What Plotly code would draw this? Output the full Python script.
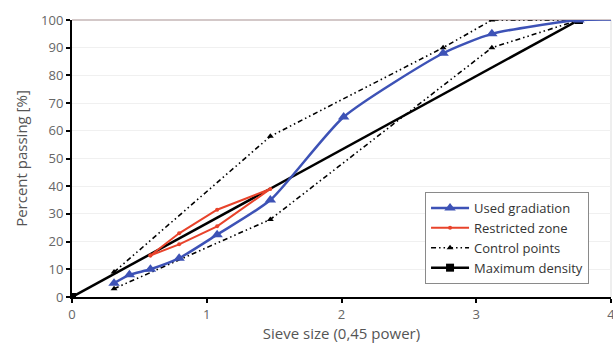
import plotly.graph_objects as go

# Sieve sizes raised to the 0.45 power
used_x = [0.312, 0.426, 0.582, 0.795, 1.077, 1.472, 2.016, 2.754, 3.116, 3.762, 4.257]
used_y = [5, 8, 10, 14, 22.5, 35, 65, 88, 95, 100, 100]

restricted_x = [0.582, 0.795, 1.077, 1.472, 1.077, 0.795, 0.582]
restricted_y = [15, 23, 31.5, 39, 25.5, 19, 15]

control_x = [0.312, 1.472, 3.116, 3.762, None, 0.312, 1.472, 2.754, 3.116, 3.762]
control_y = [3, 28, 90, 100, None, 9, 58, 90, 100, 100]

maxden_x = [0, 3.762]
maxden_y = [0, 100]

FONT = "Open Sans"

fig = go.Figure()

fig.add_trace(go.Scatter(
    x=control_x, y=control_y, mode="lines+markers", name="Control points",
    line=dict(color="black", width=1.6, dash="5px,3px,1.5px,3px,1.5px,3px"),
    marker=dict(symbol="triangle-up", size=6, color="black"),
    legendrank=3))

fig.add_trace(go.Scatter(
    x=maxden_x, y=maxden_y, mode="lines+markers", name="Maximum density",
    line=dict(color="black", width=2.5),
    marker=dict(symbol="square", size=8, color="black"),
    legendrank=4))

fig.add_trace(go.Scatter(
    x=restricted_x, y=restricted_y, mode="lines+markers", name="Restricted zone",
    line=dict(color="#e8432b", width=2),
    marker=dict(symbol="circle", size=4, color="#e8432b"),
    legendrank=2))

fig.add_trace(go.Scatter(
    x=used_x, y=used_y, mode="lines+markers", name="Used gradiation",
    line=dict(color="#3d52b6", width=2.5, shape="spline", smoothing=0.6),
    marker=dict(symbol="triangle-up", size=10, color="#3d52b6"),
    legendrank=1))

fig.update_layout(
    width=613, height=348,
    margin=dict(l=72, r=2, t=20, b=51, autoexpand=False),
    paper_bgcolor="white", plot_bgcolor="white",
    font=dict(family=FONT, color="#555555", size=12),
    showlegend=True,
    legend=dict(x=0.655, y=0.379, xanchor="left", yanchor="top",
                bordercolor="#8a8a8a", borderwidth=1, bgcolor="white",
                font=dict(family=FONT, size=13, color="#333333"),
                itemwidth=38, tracegroupgap=0),
    xaxis=dict(range=[0, 4], tickvals=[0, 1, 2, 3, 4], showgrid=False,
               showline=True, linecolor="black", linewidth=2,
               ticks="outside", ticklen=4, tickwidth=2, tickcolor="black",
               zeroline=False, automargin=False, ticklabeloverflow="allow",
               tickfont=dict(size=13, color="#666666"),
               title=dict(text="Sieve size (0,45 power)", standoff=4,
                          font=dict(size=15, color="#555555"))),
    yaxis=dict(range=[0, 100], tickvals=list(range(0, 101, 10)),
               showgrid=True, gridcolor="#f0f0f0", gridwidth=1,
               showline=True, linecolor="black", linewidth=2,
               ticks="outside", ticklen=4, tickwidth=2, tickcolor="black",
               zeroline=False, automargin=False, ticklabeloverflow="allow",
               tickfont=dict(size=13, color="#666666"),
               title=dict(text="Percent passing [%]", standoff=10,
                          font=dict(size=15, color="#555555"))),
    shapes=[
        dict(type="line", xref="paper", yref="paper", x0=0, x1=1, y0=1, y1=1,
             line=dict(color="#c4b6b6", width=1.5), layer="below"),
        dict(type="line", xref="paper", yref="paper", x0=1, x1=1, y0=0, y1=1,
             line=dict(color="#dddddd", width=1), layer="below"),
    ],
)

fig.write_html("out.html", config={"displayModeBar": False},
               post_script="document.body.style.margin='0';document.body.style.overflow='hidden';")
